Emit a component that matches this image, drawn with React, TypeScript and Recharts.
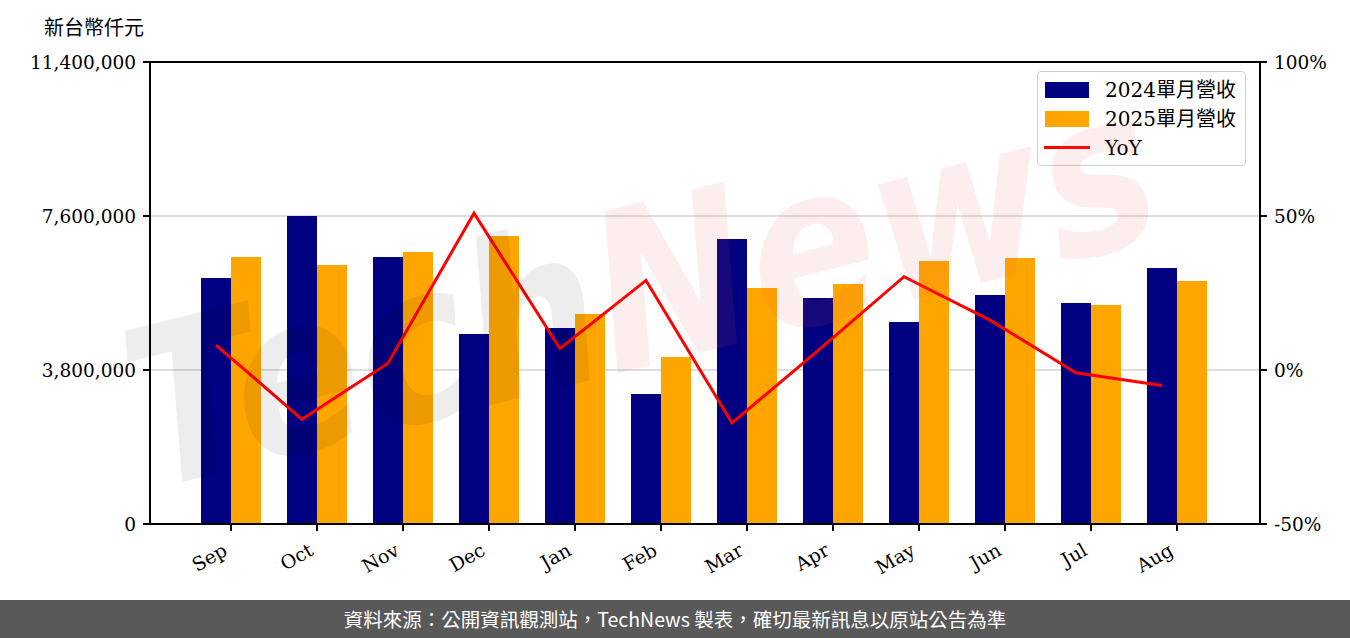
import React from 'react';
import {
  ComposedChart, Bar, Line, XAxis, YAxis, CartesianGrid, ReferenceLine, Legend,
} from 'recharts';

const months = ['Sep', 'Oct', 'Nov', 'Dec', 'Jan', 'Feb', 'Mar', 'Apr', 'May', 'Jun', 'Jul', 'Aug'];
const rev2024 = [6070000, 7600000, 6588000, 4688000, 4836000, 3208000, 7032000, 5577000, 4984000, 5651000, 5453000, 6317000];
const rev2025 = [6588000, 6391000, 6712000, 7106000, 5182000, 4121000, 5823000, 5922000, 6490000, 6564000, 5404000, 5996000];
const yoy = [8.1, -16.0, 2.2, 50.9, 7.0, 29.1, -17.2, 6.3, 30.3, 16.2, -0.9, -5.0];
const leftTicks = [0, 3800000, 7600000, 11400000];
const rightTicks = [-50, 0, 50, 100];
const seriesNames = ['2024單月營收', '2025單月營收', 'YoY'];
const unitLabel = '新台幣仟元';
const footerText = '資料來源：公開資訊觀測站，TechNews 製表，確切最新訊息以原站公告為準';

const data = months.map((m, i) => ({ month: m, r2024: rev2024[i], r2025: rev2025[i], yoy: yoy[i] }));

const SERIF = "'DejaVu Serif', 'Noto Sans CJK TC', serif";
const NAVY = '#000080';
const ORANGE = '#FFA500';
const RED = '#FF0000';

const XTick = (props: any) => {
  const { x, y, payload } = props;
  const px = x - 6;
  const py = y + 15;
  return (
    <text
      x={px}
      y={py}
      textAnchor="end"
      dominantBaseline="central"
      transform={`rotate(-30, ${px}, ${py})`}
      fontFamily={SERIF}
      fontSize={19}
      fill="#000"
    >
      {payload.value}
    </text>
  );
};

const LegendBox = () => (
  <div
    style={{
      width: 209,
      height: 95,
      border: '1.5px solid #d0d0d0',
      borderRadius: 4,
      background: 'rgba(255,255,255,0.8)',
      boxSizing: 'border-box',
      position: 'relative',
      fontFamily: SERIF,
      fontSize: 20,
      color: '#000',
    }}
  >
    {seriesNames.map((name, i) => (
      <div key={name} style={{ position: 'absolute', left: 0, top: 5 + i * 29, height: 28, width: 209 }}>
        {i < 2 ? (
          <div style={{ position: 'absolute', left: 7, top: 5, width: 44, height: 16, background: i === 0 ? NAVY : ORANGE }} />
        ) : (
          <div style={{ position: 'absolute', left: 6, top: 11, width: 46, height: 3, background: RED }} />
        )}
        <div style={{ position: 'absolute', left: 67, top: 0, lineHeight: '26px', whiteSpace: 'nowrap' }}>{name}</div>
      </div>
    ))}
  </div>
);

export default function App() {
  return (
    <div style={{ position: 'absolute', left: 0, top: 0, width: 1350, height: 638, background: '#fff', overflow: 'hidden' }}>
      <div
        style={{
          position: 'absolute', left: 44, top: 15, fontSize: 20, lineHeight: '24px',
          fontFamily: "'Noto Sans CJK TC', sans-serif", color: '#000',
        }}
      >
        {unitLabel}
      </div>
      <ComposedChart
        width={1350}
        height={600}
        data={data}
        margin={{ top: 62, right: 0, bottom: 0, left: 0 }}
        barGap={0}
      >
        <CartesianGrid yAxisId="left" vertical={false} stroke="#d3d3d3" strokeWidth={1.5} />
        <XAxis
          dataKey="month"
          padding={{ left: 38, right: 40 }}
          height={76}
          interval={0}
          tick={<XTick />}
          tickSize={7}
          axisLine={{ stroke: '#000', strokeWidth: 2 }}
          tickLine={{ stroke: '#000', strokeWidth: 2 }}
        />
        <XAxis xAxisId="line" dataKey="month" hide padding={{ left: 23, right: 55 }} />
        <YAxis
          yAxisId="left"
          width={150}
          domain={[0, 11400000]}
          ticks={leftTicks}
          tickFormatter={(v: number) => v.toLocaleString('en-US')}
          tick={{ fontFamily: SERIF, fontSize: 18.5, fill: '#000' }}
          tickSize={7}
          tickMargin={7}
          axisLine={{ stroke: '#000', strokeWidth: 2 }}
          tickLine={{ stroke: '#000', strokeWidth: 2 }}
          allowDataOverflow
        />
        <YAxis
          yAxisId="right"
          orientation="right"
          width={90}
          domain={[-50, 100]}
          ticks={rightTicks}
          tickFormatter={(v: number) => `${v}%`}
          tick={{ fontFamily: SERIF, fontSize: 18.5, fill: '#000' }}
          tickSize={7}
          tickMargin={7}
          axisLine={{ stroke: '#000', strokeWidth: 2 }}
          tickLine={{ stroke: '#000', strokeWidth: 2 }}
          allowDataOverflow
        />
        <ReferenceLine yAxisId="left" y={11400000} stroke="#000" strokeWidth={2} />
        <Bar yAxisId="left" dataKey="r2024" name={seriesNames[0]} fill={NAVY} barSize={30} isAnimationActive={false} />
        <Bar yAxisId="left" dataKey="r2025" name={seriesNames[1]} fill={ORANGE} barSize={30} isAnimationActive={false} />
        <Line
          yAxisId="right"
          xAxisId="line"
          dataKey="yoy"
          name={seriesNames[2]}
          stroke={RED}
          strokeWidth={3}
          dot={false}
          activeDot={false}
          isAnimationActive={false}
        />
        <Legend
          layout="horizontal"
          verticalAlign="middle"
          align="center"
          content={() => <LegendBox />}
          wrapperStyle={{ position: 'absolute', left: 1037, top: 71, width: 209, height: 95 }}
        />
      </ComposedChart>
      <svg
        width={1350}
        height={600}
        style={{ position: 'absolute', left: 0, top: 0, pointerEvents: 'none' }}
      >
        <text
          x={150}
          y={490}
          transform="rotate(-14, 150, 490)"
          fontFamily="'DejaVu Sans', sans-serif"
          fontStyle="italic"
          fontWeight="bold"
          fontSize={220}
          textLength={1050}
          lengthAdjust="spacingAndGlyphs"
        >
          <tspan fill="rgba(0,0,0,0.07)">Tech</tspan>
          <tspan fill="rgba(225,90,90,0.1)">News</tspan>
        </text>
      </svg>
      <div
        style={{
          position: 'absolute', left: 0, top: 600, width: 1350, height: 38, background: '#595959',
          color: '#fff', fontFamily: "'Noto Sans CJK TC', sans-serif", fontSize: 19.5,
          lineHeight: '38px', textAlign: 'center', whiteSpace: 'nowrap',
        }}
      >
        {footerText}
      </div>
    </div>
  );
}
